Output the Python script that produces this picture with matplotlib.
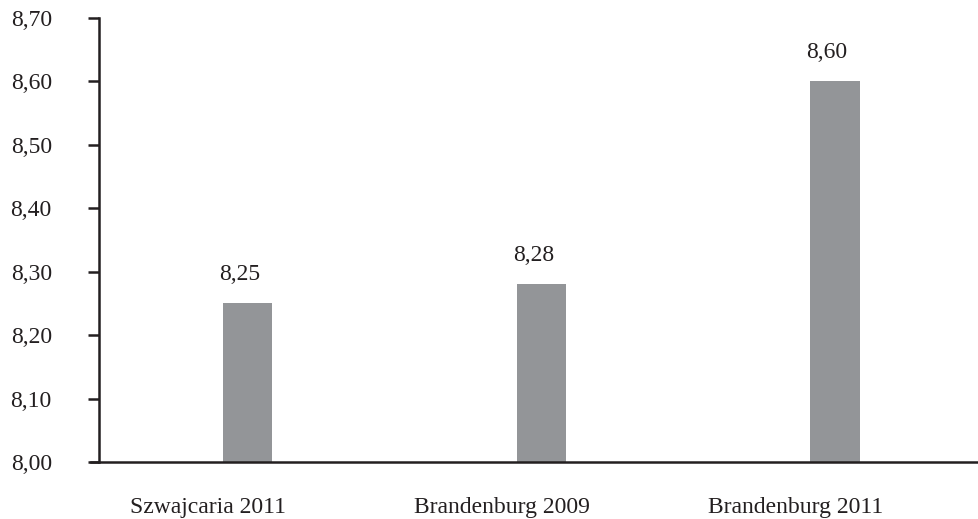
import matplotlib.pyplot as plt
from matplotlib.transforms import ScaledTranslation

# Dane wykresu
kategorie = ['Szwajcaria 2011', 'Brandenburg 2009', 'Brandenburg 2011']
wartosci = [8.25, 8.28, 8.60]
y_ticks = [8.00, 8.10, 8.20, 8.30, 8.40, 8.50, 8.60, 8.70]

plt.rcParams['font.family'] = ['Liberation Serif', 'DejaVu Serif']
kolor_tekstu = '#231f20'
rozmiar = 17

fig = plt.figure(figsize=(9.79, 5.19), dpi=100)
ax = fig.add_axes([0.1011, 0.1098, 0.8989, 0.8555])

x = range(len(kategorie))
ax.bar(x, wartosci, width=0.167, color='#939598', zorder=2)

# Etykiety z wartosciami nad slupkami (lekko przesuniete w lewo)
przes_wart = ScaledTranslation(-0.08, 0, fig.dpi_scale_trans)
for xi, v in zip(x, wartosci):
    ax.text(xi, v + 0.046, f'{v:.2f}'.replace('.', ','), ha='center', va='center',
            fontsize=rozmiar, color=kolor_tekstu, transform=ax.transData + przes_wart)

ax.set_xlim(-0.505, 2.49)
ax.set_ylim(8.0, 8.7)
ax.set_yticks(y_ticks)
ax.set_yticklabels([f'{t:.2f}'.replace('.', ',') for t in y_ticks], fontsize=rozmiar, color=kolor_tekstu)
ax.set_xticks(list(x))
ax.set_xticklabels(kategorie, fontsize=rozmiar, color=kolor_tekstu)

ax.tick_params(axis='y', direction='out', length=8, width=1.8, pad=26, color=kolor_tekstu)
ax.tick_params(axis='x', length=0, pad=25.5)

# podpisy kategorii przesuniete w lewo wzgledem slupkow
przes = ScaledTranslation(-0.39, 0, fig.dpi_scale_trans)
for lab in ax.get_xticklabels():
    lab.set_transform(lab.get_transform() + przes)

ax.spines['top'].set_visible(False)
ax.spines['right'].set_visible(False)
for s in ('left', 'bottom'):
    ax.spines[s].set_linewidth(1.8)
    ax.spines[s].set_color(kolor_tekstu)
ax.spines['bottom'].set_bounds(-0.505 - 0.028, 2.49)

fig.savefig('out.png', dpi=100)
